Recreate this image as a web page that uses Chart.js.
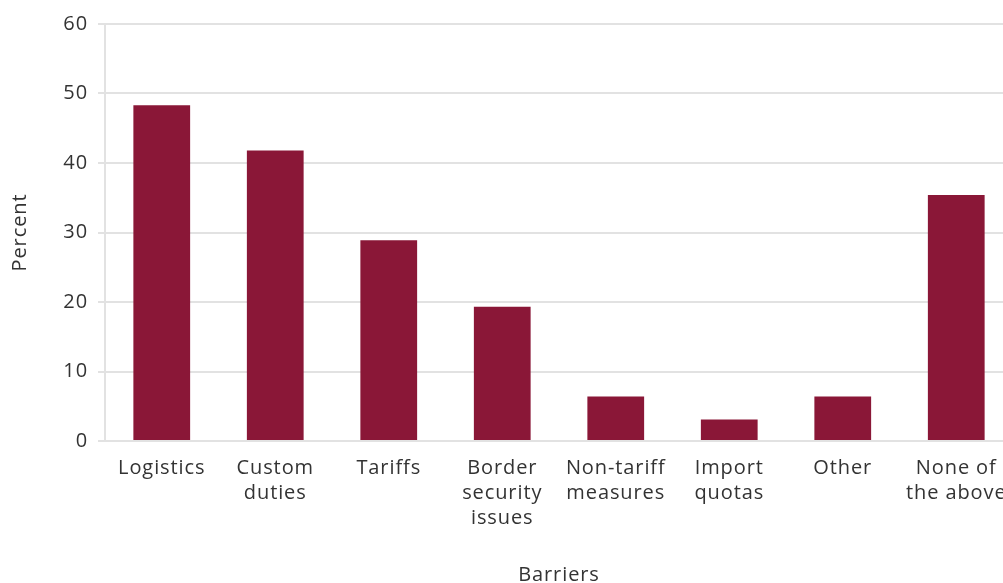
<!DOCTYPE html>
<html>
<head>
<meta charset="utf-8">
<script src="https://cdn.jsdelivr.net/npm/chart.js@4/dist/chart.umd.min.js"></script>
<style>
  html, body { margin: 0; padding: 0; background: #fff; overflow: hidden; }
  #wrap { width: 1013px; height: 583px; }
</style>
</head>
<body>
<div id="wrap"><canvas id="barriersChart"></canvas></div>
<script>
// Survey: barriers reported, percent of respondents
const categories = [
    ['Logistics'],
    ['Custom', 'duties'],
    ['Tariffs'],
    ['Border', 'security', 'issues'],
    ['Non-tariff', 'measures'],
    ['Import', 'quotas'],
    ['Other'],
    ['None of', 'the above']
];
const percentValues = [48.3, 41.8, 28.9, 19.3, 6.4, 3.1, 6.4, 35.4];
const yTicks = [0, 10, 20, 30, 40, 50, 60];

const BAR_COLOR = '#8a1737';
const GRID_COLOR = '#e2e2e2';
const TEXT_COLOR = '#333333';
const FONT = "'Open Sans', 'Liberation Sans', sans-serif";

// Slightly looser tracking for all canvas text
const letterSpacingPlugin = {
    id: 'letterSpacing',
    beforeLayout(chart) { chart.ctx.letterSpacing = '0.9px'; },
    beforeDraw(chart) { chart.ctx.letterSpacing = '0.9px'; }
};

const ctx = document.getElementById('barriersChart').getContext('2d');
new Chart(ctx, {
    type: 'bar',
    data: {
        labels: categories,
        datasets: [{
            label: 'Percent',
            data: percentValues,
            backgroundColor: BAR_COLOR,
            borderWidth: 0,
            barPercentage: 0.5,
            categoryPercentage: 1.0
        }]
    },
    plugins: [letterSpacingPlugin],
    options: {
        responsive: true,
        maintainAspectRatio: false,
        animation: false,
        layout: { padding: { top: 24, left: 0, right: 0, bottom: 0 } },
        plugins: {
            legend: { display: false },
            tooltip: { enabled: false }
        },
        scales: {
            x: {
                grid: { display: false, drawTicks: false },
                border: { display: false },
                ticks: {
                    color: TEXT_COLOR,
                    font: { family: FONT, size: 20, lineHeight: 1.25 },
                    maxRotation: 0,
                    autoSkip: false,
                    padding: 15
                },
                title: {
                    display: true,
                    text: 'Barriers',
                    color: TEXT_COLOR,
                    font: { family: FONT, size: 20, lineHeight: 1.2 },
                    padding: { top: 0, bottom: -4 }
                },
                afterFit: (scale) => {
                    scale.height = 142;
                    // let the last label run past the edge instead of shrinking the plot
                    scale.paddingLeft = 0;
                    scale.paddingRight = 0;
                }
            },
            y: {
                min: 0,
                max: 60,
                afterBuildTicks: (scale) => {
                    scale.ticks = yTicks.map(v => ({ value: v }));
                },
                grid: { color: GRID_COLOR, lineWidth: 2, tickLength: 7 },
                border: { display: true, color: GRID_COLOR, width: 2 },
                ticks: {
                    color: TEXT_COLOR,
                    font: { family: FONT, size: 20 },
                    padding: 10
                },
                title: {
                    display: true,
                    text: 'Percent',
                    color: TEXT_COLOR,
                    font: { family: FONT, size: 20, lineHeight: 1.2 },
                    padding: { top: 8, bottom: 0 }
                },
                afterFit: (scale) => { scale.width = 105; }
            }
        }
    }
});
</script>
</body>
</html>
